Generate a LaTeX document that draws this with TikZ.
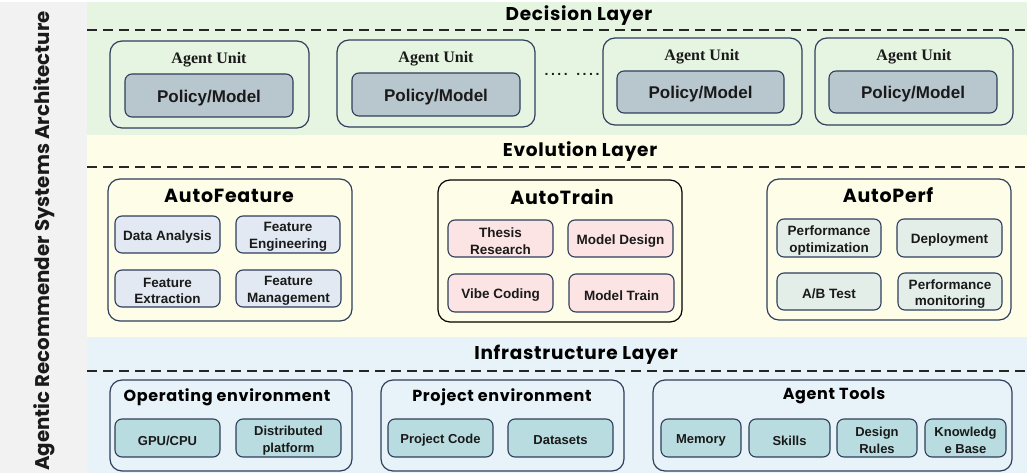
\documentclass[tikz,border=0pt]{standalone}
\usepackage{fontspec}
\setmainfont{Liberation Sans}
\newfontfamily\handfont[LetterSpace=4]{Poppins}
\newfontfamily\sidefont{Poppins}
\newfontfamily\unitfont{Liberation Serif}
\newfontfamily\dotfont[LetterSpace=18]{Liberation Sans}

\definecolor{stripbg}{HTML}{F2F2F2}
\definecolor{decbg}{HTML}{E6F4E2}
\definecolor{evobg}{HTML}{FDFDE8}
\definecolor{infbg}{HTML}{E7F3F8}
\definecolor{navy}{HTML}{2E3E5C}
\definecolor{ink}{HTML}{1A1A1A}
\definecolor{policyfill}{HTML}{B8C6CE}
\definecolor{featfill}{HTML}{E2E9F2}
\definecolor{trainfill}{HTML}{FCE4E4}
\definecolor{perffill}{HTML}{E4EEE9}
\definecolor{infsubfill}{HTML}{B8DCDF}

% rounded box from corner (x1,y1) to (x2,y2): style, name, x1, y1, x2, y2, text;
% the label sits a little below the box centre
\newcommand\rbox[7]{%
  \node[#1, minimum width=\dimexpr#5pt-#3pt\relax,
        minimum height=\dimexpr#6pt-#4pt\relax]
    (#2) at ({(#3+#5)/2},{(#4+#6)/2}) {};
  \node[#1, draw=none, fill=none] (#2-text) at ([yshift=-2.5pt]#2.center) {#7};}

\begin{document}
\begin{tikzpicture}[x=1pt,y=-1pt,
  outerbox/.style={draw=navy, line width=1.2pt, rounded corners=12pt, inner sep=0pt},
  trainbox/.style={outerbox, draw=black},
  subbox/.style={draw=navy, line width=1.1pt, rounded corners=7pt, inner sep=0pt,
    align=center, text=ink, font=\bfseries\fontsize{13.5}{16.5}\selectfont},
  policybox/.style={subbox, fill=policyfill, font=\bfseries\fontsize{17}{20}\selectfont},
  featbox/.style={subbox, fill=featfill},
  trainsub/.style={subbox, fill=trainfill},
  perfbox/.style={subbox, fill=perffill},
  infbox/.style={subbox, fill=infsubfill, font=\bfseries\fontsize{13}{16.5}\selectfont},
  layertitle/.style={text=black, inner sep=0pt, font=\handfont\bfseries\fontsize{18.5}{22}\selectfont},
  grouptitle/.style={text=black, inner sep=0pt, font=\handfont\bfseries\fontsize{19}{24}\selectfont},
  envtitle/.style={text=black, inner sep=0pt, font=\handfont\bfseries\fontsize{16}{20}\selectfont},
  unittitle/.style={text=ink, inner sep=0pt, font=\unitfont\bfseries\fontsize{16}{19}\selectfont},
  separator/.style={draw=black!85, line width=1.4pt, dash pattern=on 10pt off 6pt}
]
\useasboundingbox (0,0) rectangle (1027,473);

% side strip and layer bands
\fill[stripbg] (0,2) rectangle (87,473);
\fill[decbg] (87,2) rectangle (1027,135);
\fill[evobg] (87,135) rectangle (1027,337);
\fill[infbg] (87,337) rectangle (1027,473);

\node[rotate=90, inner sep=0pt, text=ink, font=\sidefont\bfseries\fontsize{19.8}{24}\selectfont]
  (arch) at (44,241) {Agentic Recommender Systems Architecture};

% ---------- Decision layer ----------
\node[layertitle] (decT) at (579,16) {Decision Layer};
\coordinate (decL) at (87,30);
\coordinate (decR) at (1027,30);
\draw[separator] (decL) -- (decR);

\rbox{outerbox, fill=decbg}{u1}{110}{41}{309}{128}{}
\rbox{outerbox, fill=decbg}{u2}{337}{40}{535}{127}{}
\rbox{outerbox, fill=decbg}{u3}{603}{38}{802}{125}{}
\rbox{outerbox, fill=decbg}{u4}{815}{38}{1013}{125}{}
\node[unittitle] (u1T) at (209,60) {Agent Unit};
\node[unittitle] (u2T) at (436,59) {Agent Unit};
\node[unittitle] (u3T) at (702,57) {Agent Unit};
\node[unittitle] (u4T) at (914,57) {Agent Unit};
\rbox{policybox}{p1}{125}{74}{293}{117}{Policy/Model}
\rbox{policybox}{p2}{352}{73}{520}{116}{Policy/Model}
\rbox{policybox}{p3}{617}{71}{784}{113}{Policy/Model}
\rbox{policybox}{p4}{829}{71}{997}{113}{Policy/Model}
\node[inner sep=0pt, text=ink, font=\dotfont\bfseries\fontsize{14}{16}\selectfont]
  (dots) at (572,74) {.... ....};

% ---------- Evolution layer ----------
\node[layertitle] (evoT) at (580,152) {Evolution Layer};
\coordinate (evoL) at (87,167);
\coordinate (evoR) at (1027,167);
\draw[separator] (evoL) -- (evoR);

\rbox{outerbox, fill=evobg}{feat}{108}{179}{352}{321}{}
\node[grouptitle] (featT) at (229,196) {AutoFeature};
\rbox{featbox}{fa}{115}{216}{220}{253}{Data Analysis}
\rbox{featbox}{fb}{236}{216}{340}{253}{Feature\\Engineering}
\rbox{featbox}{fc}{115}{270}{220}{307}{Feature\\Extraction}
\rbox{featbox}{fd}{236}{270}{341}{307}{Feature\\Management}

\rbox{trainbox, fill=evobg}{train}{438}{180}{682}{322}{}
\node[grouptitle] (trainT) at (562,197) {AutoTrain};
\rbox{trainsub}{ta}{448}{220}{553}{257}{Thesis\\Research}
\rbox{trainsub}{tb}{568}{220}{673}{257}{Model Design}
\rbox{trainsub}{tc}{448}{274}{553}{312}{Vibe Coding}
\rbox{trainsub}{td}{569}{274}{674}{312}{Model Train}

\rbox{outerbox, fill=evobg}{perf}{767}{179}{1011}{320}{}
\node[grouptitle] (perfT) at (888,195) {AutoPerf};
\rbox{perfbox}{pa}{777}{219}{881}{257}{Performance\\optimization}
\rbox{perfbox}{pb}{897}{219}{1002}{257}{Deployment}
\rbox{perfbox}{pc}{777}{273}{881}{310}{A/B Test}
\rbox{perfbox}{pd}{898}{273}{1002}{310}{Performance\\monitoring}

% ---------- Infrastructure layer ----------
\node[layertitle] (infT) at (576,355) {Infrastructure Layer};
\coordinate (infL) at (87,371);
\coordinate (infR) at (1027,371);
\draw[separator] (infL) -- (infR);

\rbox{outerbox, fill=infbg}{oenv}{110}{380}{352}{471}{}
\node[envtitle] (oenvT) at (227,397) {Operating environment};
\rbox{infbox}{ia}{115}{419}{220}{457}{GPU/CPU}
\rbox{infbox}{ib}{236}{419}{341}{457}{Distributed\\platform}

\rbox{outerbox, fill=infbg}{penv}{381}{380}{624}{471}{}
\node[envtitle] (penvT) at (502,397) {Project environment};
\rbox{infbox}{ic}{388}{419}{493}{457}{Project Code}
\rbox{infbox}{id}{508}{419}{613}{457}{Datasets}

\rbox{outerbox, fill=infbg}{tools}{653}{380}{1012}{471}{}
\node[envtitle] (toolsT) at (834,396) {Agent Tools};
\rbox{infbox}{ie}{661}{419}{741}{457}{Memory}
\rbox{infbox}{if}{749}{419}{830}{457}{Skills}
\rbox{infbox}{ig}{837}{419}{917}{457}{Design\\Rules}
\rbox{infbox}{ih}{925}{419}{1006}{457}{Knowledg\\e Base}
\end{tikzpicture}
\end{document}
